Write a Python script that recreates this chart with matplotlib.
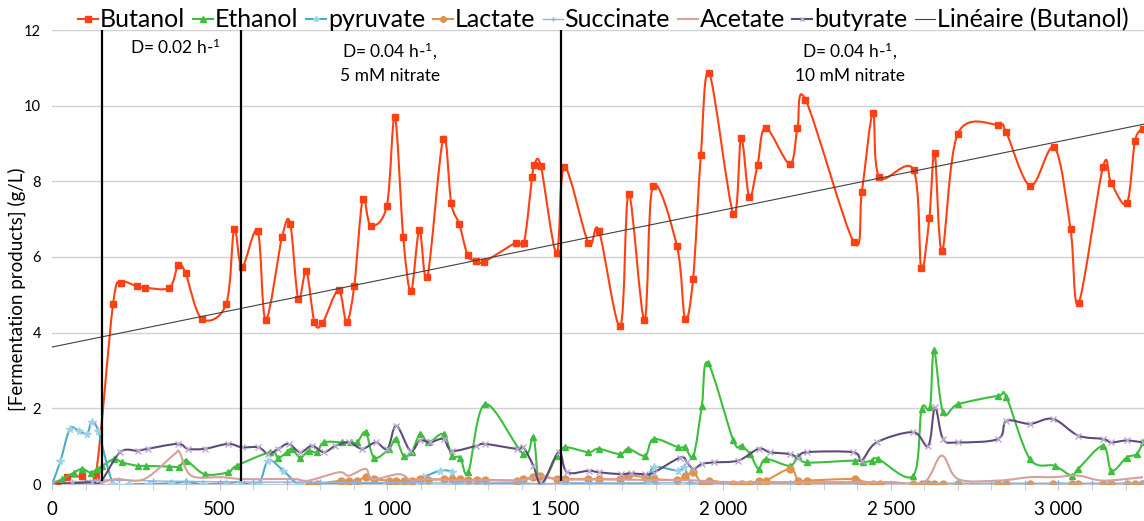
import numpy as np
import matplotlib.pyplot as plt
from matplotlib.path import Path
from matplotlib.patches import PathPatch
from matplotlib.lines import Line2D
from matplotlib.ticker import MultipleLocator, FuncFormatter

plt.rcParams['font.family'] = ['Lato', 'DejaVu Sans']
plt.rcParams['mathtext.default'] = 'regular'

# time (h) and concentration (g/L)
butanol_t = [0, 15, 45, 90, 130, 182, 207, 253, 278, 350, 376, 398, 446, 519, 543,
             566, 613, 637, 686, 710, 734, 758, 782, 806, 854, 878, 901, 926, 950, 998,
             1022, 1047, 1070, 1095, 1119, 1166, 1190, 1214, 1239, 1263, 1287, 1383, 1407,
             1431, 1437, 1457, 1504, 1527, 1599, 1630, 1694, 1719, 1766, 1791, 1863, 1887,
             1911, 1934, 1959, 2031, 2054, 2078, 2103, 2127, 2199, 2222, 2246, 2390, 2414,
             2447, 2466, 2568, 2591, 2615, 2631, 2653, 2700, 2821, 2844, 2916, 2988, 3036,
             3060, 3133, 3157, 3204, 3228, 3251]
butanol_v = [0, 0, 0.18, 0.2, 0.22, 4.76, 5.32, 5.23, 5.19, 5.19, 5.79, 5.57, 4.37, 4.75, 6.74,
             5.73, 6.69, 4.34, 6.54, 6.88, 4.89, 5.63, 4.29, 4.25, 5.13, 4.28, 5.24, 7.52, 6.83, 7.35,
             9.71, 6.52, 5.09, 6.71, 5.48, 9.13, 7.42, 6.87, 6.05, 5.90, 5.87, 6.38, 6.38,
             8.11, 8.42, 8.41, 6.10, 8.38, 6.37, 6.70, 4.18, 7.67, 4.34, 7.87, 6.28, 4.37,
             5.43, 8.69, 10.86, 7.14, 9.15, 7.59, 8.43, 9.42, 8.46, 9.40, 10.16, 6.39, 7.72,
             9.81, 8.11, 8.30, 5.70, 7.02, 8.76, 6.16, 9.26, 9.49, 9.30, 7.88, 8.90, 6.74,
             4.78, 8.39, 7.96, 7.42, 9.06, 9.39]

ethanol_t = [0, 30, 65, 90, 115, 135, 150, 185, 210, 255, 280, 350, 380, 400, 455, 525, 550,
             650, 675, 700, 715, 740, 765, 790, 810, 865, 890, 910, 935, 960, 1005, 1025, 1048,
             1072, 1097, 1122, 1167, 1192, 1217, 1241, 1291, 1405, 1435, 1455, 1505, 1530, 1599,
             1629, 1693, 1718, 1768, 1793, 1867, 1887, 1912, 1937, 1955, 2031, 2056, 2081, 2106,
             2128, 2200, 2224, 2249, 2393, 2418, 2443, 2463, 2567, 2592, 2617, 2629, 2656, 2701,
             2820, 2845, 2915, 2989, 3039, 3059, 3133, 3158, 3203, 3233, 3252]
ethanol_v = [0, 0.13, 0.3, 0.4, 0.3, 0.4, 0.48, 0.66, 0.57, 0.48, 0.48, 0.46, 0.46, 0.62, 0.26, 0.31, 0.48,
             0.84, 0.70, 0.84, 0.93, 0.70, 0.88, 0.84, 1.10, 1.10, 1.10, 1.10, 1.37, 0.70, 0.93, 1.19, 0.75,
             0.84, 1.32, 1.10, 1.32, 0.75, 0.70, 0.31, 2.11, 0.79, 1.23, 0.0, 0.75, 0.97, 0.84,
             0.93, 0.79, 0.93, 0.75, 1.19, 0.97, 0.97, 0.75, 2.07, 3.2, 1.15, 1.01, 0.79, 0.40,
             0.66, 0.48, 0.75, 0.57, 0.62, 0.57, 0.62, 0.66, 0.22, 1.98, 2.03, 3.55, 1.89, 2.11,
             2.33, 2.29, 0.66, 0.48, 0.22, 0.40, 1.01, 0.35, 0.70, 0.79, 1.10]

pyruvate_t = [0, 25, 53, 80, 105, 118, 138, 183, 230, 290, 355, 400, 450, 520, 560, 615, 645, 690,
              735, 800, 900, 1000, 1060, 1107, 1157, 1192, 1212, 1290, 1400, 1460, 1530, 1600, 1700,
              1773, 1793, 1867, 1885, 1907, 1960, 2050, 2200, 2400, 2570, 2700, 2850, 3000, 3150, 3252]
pyruvate_v = [0, 0.6, 1.45, 1.40, 1.33, 1.63, 1.40, 0, 0, 0, 0.02, 0.05, 0, 0.02, 0.05, 0, 0.62, 0.35,
              0, 0, 0, 0, 0, 0.18, 0.35, 0.31, 0, 0, 0, 0, 0, 0, 0,
              0.05, 0.44, 0.35, 0.45, 0, 0, 0, 0, 0, 0, 0, 0, 0, 0, 0]

lactate_t = [765, 790, 860, 885, 910, 935, 960, 1005, 1025, 1048, 1072, 1097, 1122, 1167, 1192, 1217,
             1241, 1266, 1290, 1385, 1405, 1435, 1455, 1505, 1530, 1599, 1629, 1693, 1718, 1768, 1793,
             1862, 1887, 1912, 1937, 1957, 2031, 2056, 2081, 2106, 2128, 2200, 2224, 2249, 2393, 2418,
             2448, 2468, 2567, 2592, 2610, 2630, 2655, 2701, 2820, 2845, 2915, 2984, 3039, 3059, 3133,
             3158, 3203, 3228, 3248]
lactate_v = [0, 0, 0.09, 0.09, 0.09, 0.18, 0.13, 0.09, 0.09, 0.07, 0.09, 0.13, 0.11, 0.13, 0.13, 0.13,
             0.11, 0.11, 0.11, 0.09, 0.13, 0.18, 0.22, 0.13, 0.13, 0.13, 0.13, 0.13, 0.22, 0.18, 0.13,
             0.11, 0.2, 0.31, 0, 0.09, 0, 0, 0, 0.09, 0.09, 0.40, 0.09, 0.09, 0.13, 0,
             0, 0, 0, 0, 0, 0, 0, 0, 0, 0, 0, 0, 0, 0, 0,
             0, 0, 0, 0]

succinate_t = [0, 60, 135, 200, 300, 400, 500, 600, 700, 800, 900, 1000, 1100, 1200, 1300, 1400,
               1460, 1530, 1600, 1700, 1800, 1900, 2000, 2100, 2200, 2300, 2400, 2500, 2600, 2700,
               2800, 2900, 3000, 3100, 3200, 3252]
succinate_v = [0, 0.05, 0.1, 0.1, 0.08, 0.07, 0.06, 0.05, 0.05, 0.04, 0.04, 0.04, 0.03, 0.03, 0.03, 0.03,
               0.0, 0.03, 0.03, 0.03, 0.03, 0.03, 0.02, 0.02, 0.02, 0.02, 0.02, 0.02, 0.02, 0.02,
               0.02, 0.02, 0.02, 0.02, 0.02, 0.02]

acetate_t = [0, 135, 190, 275, 365, 380, 415, 505, 565, 645, 725, 765, 855, 885, 935, 955, 1035,
             1072, 1117, 1200, 1300, 1400, 1455, 1510, 1600, 1700, 1800, 1900, 2000, 2100, 2200,
             2300, 2400, 2500, 2600, 2652, 2701, 2820, 2915, 2984, 3059, 3133, 3252]
acetate_v = [0, 0.03, 0.13, 0.13, 0.79, 0.84, 0.22, 0.18, 0.13, 0.13, 0.13, 0.09, 0.31, 0.22, 0.40, 0.13, 0.26,
             0.09, 0.13, 0.1, 0.1, 0.1, 0.2, 0.12, 0.12, 0.12, 0.1, 0.1, 0.05, 0.05, 0.05,
             0.05, 0.05, 0.05, 0.05, 0.75, 0.13, 0.09, 0.18, 0.18, 0.22, 0.09, 0.18]

butyrate_t = [0, 60, 120, 145, 203, 255, 285, 375, 405, 455, 525, 565, 615, 645, 675, 705, 740, 775,
              810, 845, 885, 925, 965, 1000, 1026, 1068, 1097, 1127, 1167, 1192, 1265, 1290, 1385, 1405,
              1435, 1460, 1510, 1535, 1600, 1630, 1695, 1725, 1768, 1793, 1873, 1893, 1912, 1937, 1972,
              2046, 2106, 2140, 2200, 2224, 2249, 2388, 2413, 2458, 2567, 2612, 2632, 2656, 2701, 2820,
              2845, 2915, 2984, 3059, 3133, 3158, 3203, 3252]
butyrate_v = [0, 0.02, 0.05, 0.05, 0.84, 0.88, 0.93, 1.06, 0.93, 0.93, 1.06, 0.97, 0.97, 0.80, 0.93, 1.06, 0.84, 1.01,
              0.84, 1.01, 1.10, 0.93, 1.10, 0.93, 1.54, 0.88, 1.15, 1.10, 1.19, 0.88, 1.01, 1.06, 0.93, 0.97,
              0.48, 0.0, 0.84, 0.31, 0.35, 0.31, 0.26, 0.28, 0.26, 0.30, 0.70, 0.57, 0.40, 0.53, 0.57,
              0.62, 0.93, 0.84, 0.79, 0.70, 0.84, 0.84, 0.62, 1.10, 1.37, 1.01, 2.03, 1.19, 1.10, 1.19,
              1.67, 1.59, 1.72, 1.28, 1.19, 1.10, 1.15, 1.10]

# Excel trendline "Linéaire (Butanol)" as shown on the chart
trend_intercept = 3.62
trend_slope = 0.00181

# phase changes (h) and their labels
phase_t = [149, 563, 1517]
phase_labels = ['D= 0.02 h-$^{1}$', 'D= 0.04 h-$^{1}$,\n5 mM nitrate', 'D= 0.04 h-$^{1}$,\n10 mM nitrate']
phase_label_t = [367, 1007, 2378]


def smooth(x, y):
    # Excel "smoothed line": Catmull-Rom through the points, as cubic Bezier
    p = np.column_stack([x, y]).astype(float)
    n = len(p)
    verts = [p[0]]
    codes = [Path.MOVETO]
    for i in range(n - 1):
        c1 = p[i] + (p[i + 1] - p[max(i - 1, 0)]) / 6
        c2 = p[i + 1] - (p[min(i + 2, n - 1)] - p[i]) / 6
        verts += [c1, c2, p[i + 1]]
        codes += [Path.CURVE4] * 3
    return Path(verts, codes)


series = [
    ('Butanol', butanol_t, butanol_v, '#FF4013', 's', '#FF4013', 5.0, 1.5),
    ('Ethanol', ethanol_t, ethanol_v, '#3DBE3D', '^', '#3DBE3D', 5.0, 1.5),
    ('pyruvate', pyruvate_t, pyruvate_v, '#4BACC6', '*', '#9DD3E8', 5.5, 1.5),
    ('Lactate', lactate_t, lactate_v, '#E0914E', 'o', '#E0914E', 5.0, 1.5),
    ('Succinate', succinate_t, succinate_v, '#8DB4E2', '+', '#8DB4E2', 4.0, 1.0),
    ('Acetate', acetate_t, acetate_v, '#D4A19B', None, None, 0, 1.5),
    ('butyrate', butyrate_t, butyrate_v, '#5F4B7A', 'x', '#B8A7CF', 4.0, 1.5),
]

fig = plt.figure(figsize=(11.44, 5.21), dpi=100)
ax = fig.add_axes([52 / 1144, 37 / 521, 1 - 52 / 1144, 454 / 521])

handles = []
for i, (name, t, v, col, mk, mcol, ms, lw) in enumerate(series):
    ax.add_patch(PathPatch(smooth(t, v), fill=False, edgecolor=col, lw=lw, zorder=3 + i))
    if mk:
        ax.plot(t, v, ls='none', marker=mk, ms=ms, color=mcol, mec=mcol, mew=1.0, zorder=3 + i)
    handles.append(Line2D([], [], color=col, lw=lw, marker=mk, ms=ms * 0.8, mfc=mcol, mec=mcol))

xs = np.array([0, 3300])
ax.plot(xs, trend_intercept + trend_slope * xs, color='#404040', lw=0.8, zorder=12)
handles.append(Line2D([], [], color='#404040', lw=0.8))

for t in phase_t:
    ax.plot([t, t], [0.1, 12], color='black', lw=1.6, zorder=13)
ax.text(phase_label_t[0], 11.55, phase_labels[0], ha='center', va='center', fontsize=12.5)
for t, s in zip(phase_label_t[1:], phase_labels[1:]):
    ax.text(t, 11.15, s, ha='center', va='center', fontsize=12.5, linespacing=1.45)

ax.set_xlim(0, 3255)
ax.set_ylim(0, 12)
ax.yaxis.set_major_locator(MultipleLocator(2))
ax.xaxis.set_major_locator(MultipleLocator(500))
ax.xaxis.set_minor_locator(MultipleLocator(100))
ax.xaxis.set_major_formatter(FuncFormatter(lambda v, p: f'{int(v):,}'.replace(',', ' ')))
ax.grid(axis='y', color='#D0D0D0', lw=1.0)
ax.set_axisbelow(True)
for s in ['top', 'right', 'left']:
    ax.spines[s].set_visible(False)
ax.spines['bottom'].set_color('#C8C8C8')
ax.tick_params(axis='y', length=0, labelsize=10.5, pad=8)
ax.tick_params(axis='x', which='both', color='#C8C8C8', length=4, labelsize=13.5, pad=8)
ax.set_ylabel('[Fermentation products] (g/L)', fontsize=13.5)
ax.yaxis.set_label_coords(-0.024, 0.43)

labels = [s[0] for s in series] + ['Linéaire (Butanol)']
fig.legend(handles, labels, loc='center', bbox_to_anchor=(0.5275, 0.962), ncol=8, frameon=False,
           fontsize=18, handlelength=0.8, handletextpad=0.08, columnspacing=0.3, borderaxespad=0)

fig.savefig('out.png', dpi=100)
